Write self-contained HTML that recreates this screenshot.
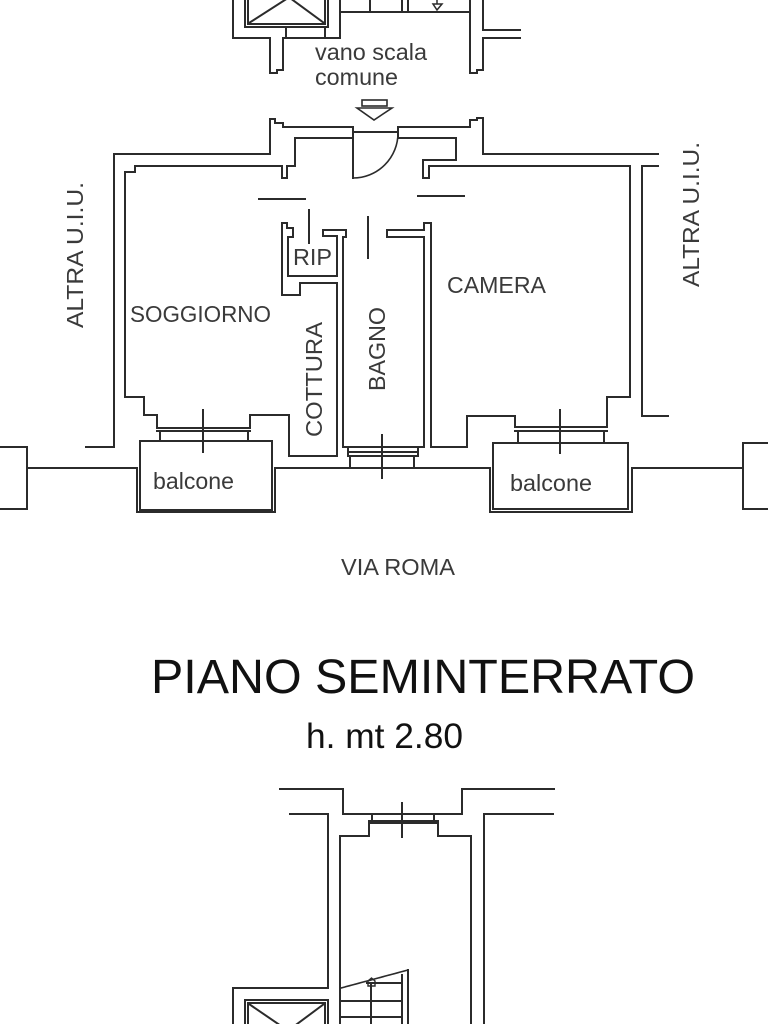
<!DOCTYPE html>
<html>
<head>
<meta charset="utf-8">
<style>
  html,body{margin:0;padding:0;background:#fff;}
  svg{display:block;}
  .w{fill:none;stroke:#2b2b2b;stroke-width:2;stroke-linejoin:miter;stroke-linecap:square;}
  .t{font-family:"Liberation Sans",Arial,sans-serif;fill:#3a3a3a;font-size:23px;}
  .h{font-family:"Liberation Sans",Arial,sans-serif;fill:#111;}
</style>
</head>
<body>
<svg width="768" height="1024" viewBox="0 0 768 1024" xmlns="http://www.w3.org/2000/svg">
  <rect x="0" y="0" width="768" height="1024" fill="#fff"/>

  <!-- ===== TOP: vano scala comune ===== -->
  <path class="w" d="M233,0 V38 H270 V73 H277 V70 H283 V38 H340 V0"/>
  <!-- lift box -->
  <rect class="w" x="245" y="-5" width="83" height="32"/>
  <rect class="w" x="248" y="-5" width="77" height="29"/>
  <path class="w" d="M249,23 L288,-2 M324,23 L290,-2"/>
  <path class="w" d="M286,27 V38 M325,27 V38"/>
  <!-- stair top -->
  <path class="w" d="M340,12 H470 M370,0 V12 M402,0 V12 M408,0 V12"/>
  <path class="w" style="stroke-width:1.5" d="M437,0 V4 M433,4 H442 L437,10 Z"/>
  <!-- right pilaster -->
  <path class="w" d="M470,0 V73 H477 V70 H483 V38 H520"/>
  <path class="w" d="M483,0 V30 H520"/>

  <text class="t" x="315" y="60" textLength="112" lengthAdjust="spacingAndGlyphs">vano scala</text>
  <text class="t" x="315" y="85" textLength="83" lengthAdjust="spacingAndGlyphs">comune</text>

  <!-- entrance arrow -->
  <rect class="w" style="stroke-width:1.6" x="362" y="100" width="25" height="6"/>
  <path class="w" style="stroke-width:1.6" d="M357,108 H392 L374,120 Z"/>

  <!-- ===== APARTMENT ===== -->
  <!-- outer left + top left -->
  <path class="w" d="M86,447 H114 V154 H270 V119 H275 V123 H283 V127 H353"/>
  <!-- door -->
  <path class="w" d="M353,127 V178 M353,132 H398 M398,127 V138"/>
  <path class="w" style="stroke-width:1.6" d="M353,178 A45,45 0 0 0 398,133"/>
  <!-- top right -->
  <path class="w" d="M398,127 H470 V120 H477 V118 H483 V154 H658"/>
  <path class="w" d="M658,166 H642 V416 H668"/>

  <!-- inner left (soggiorno) -->
  <path class="w" d="M353,138 H295 V166 H287 V178 H282 V166 H135 V172 H125 V397 H144 V415 H157 V428"/>
  <!-- soggiorno window -->
  <path class="w" d="M157,428 H250 M157,431 H250 M160,431 V441 M248,431 V441 M203,410 V452"/>
  <!-- right lower + cottura -->
  <path class="w" d="M250,428 V415 H289 V456 H337 V283 H300 V295 H282 V223 H287 V228 H293 V237 H288 V276 H337 V236 H323 V230 H346 V237 H343 V447 H424 V237 H387 V230 H424 V223 H431 V447 H467 V416 H515 V427"/>

  <!-- inner right (camera) -->
  <path class="w" d="M398,138 H456 V160 H423 V178 H429 V166 H630 V397 H607 V427"/>
  <!-- camera window -->
  <path class="w" d="M515,427 H607 M515,431 H607 M518,431 V442 M604,431 V442 M560,410 V453"/>

  <!-- bagno window -->
  <path class="w" d="M348,447 V456 H418 V447 M348,452 H418 M350,456 V468 M414,456 V468 M382,435 V478"/>

  <!-- door symbols -->
  <path class="w" d="M309,210 V243 M259,199 H305 M368,217 V258 M418,196 H464"/>

  <!-- balconies -->
  <rect class="w" x="140" y="441" width="132" height="69"/>
  <path class="w" d="M137,468 V512 H275 V468"/>
  <rect class="w" x="493" y="443" width="135" height="66"/>
  <path class="w" d="M490,468 V512 H632 V468"/>

  <!-- street line -->
  <path class="w" d="M27,468 H137 M275,468 H490 M632,468 H743"/>
  <!-- side boxes -->
  <path class="w" d="M-2,447 H27 V509 H-2"/>
  <path class="w" d="M770,443 H743 V509 H770"/>

  <!-- labels -->
  <text class="t" transform="translate(83,328) rotate(-90)" textLength="146" lengthAdjust="spacingAndGlyphs">ALTRA U.I.U.</text>
  <text class="t" transform="translate(699,287) rotate(-90)" textLength="145" lengthAdjust="spacingAndGlyphs">ALTRA U.I.U.</text>
  <text class="t" x="130" y="322" textLength="141" lengthAdjust="spacingAndGlyphs">SOGGIORNO</text>
  <text class="t" x="447" y="293" textLength="99" lengthAdjust="spacingAndGlyphs">CAMERA</text>
  <text class="t" x="293" y="265" textLength="39" lengthAdjust="spacingAndGlyphs">RIP</text>
  <text class="t" transform="translate(322,437) rotate(-90)" textLength="115" lengthAdjust="spacingAndGlyphs">COTTURA</text>
  <text class="t" transform="translate(385,391) rotate(-90)" textLength="84" lengthAdjust="spacingAndGlyphs">BAGNO</text>
  <text class="t" x="153" y="489" textLength="81" lengthAdjust="spacingAndGlyphs">balcone</text>
  <text class="t" x="510" y="491" textLength="82" lengthAdjust="spacingAndGlyphs">balcone</text>
  <text class="t" x="341" y="575" textLength="114" lengthAdjust="spacingAndGlyphs">VIA ROMA</text>

  <!-- title -->
  <text class="h" x="151" y="693" font-size="48" textLength="544" lengthAdjust="spacingAndGlyphs">PIANO SEMINTERRATO</text>
  <text class="h" x="306" y="748" font-size="35.5" textLength="157" lengthAdjust="spacingAndGlyphs">h. mt 2.80</text>

  <!-- ===== BOTTOM: seminterrato ===== -->
  <path class="w" d="M280,789 H343 V814 H462 V789 H554"/>
  <path class="w" d="M290,814 H328 V988 H233 V1030"/>
  <path class="w" d="M553,814 H484 V1030"/>
  <path class="w" d="M340,1030 V836 H369 V823 H438 V836 H471 V1030"/>
  <!-- window -->
  <path class="w" d="M369,821 H438 M372,814 V821 M434,814 V821 M402,803 V837"/>
  <!-- stair -->
  <path class="w" style="stroke-width:1.6" stroke-dasharray="4,1" d="M341,988 L408,970"/>
  <path class="w" d="M408,970 V1030 M402,975 V1030 M341,1001 H402 M341,1017 H402 M367,983 H402 M371,983 V1030"/>
  <path class="w" style="stroke-width:1.4" d="M368,986 H375 V981 L371.5,978 L368,981 Z"/>
  <!-- lift box -->
  <rect class="w" x="245" y="1000" width="83" height="40"/>
  <rect class="w" x="248" y="1003" width="77" height="37"/>
  <path class="w" d="M249,1004 L287,1030 M324,1004 L289,1030"/>
</svg>
</body>
</html>
